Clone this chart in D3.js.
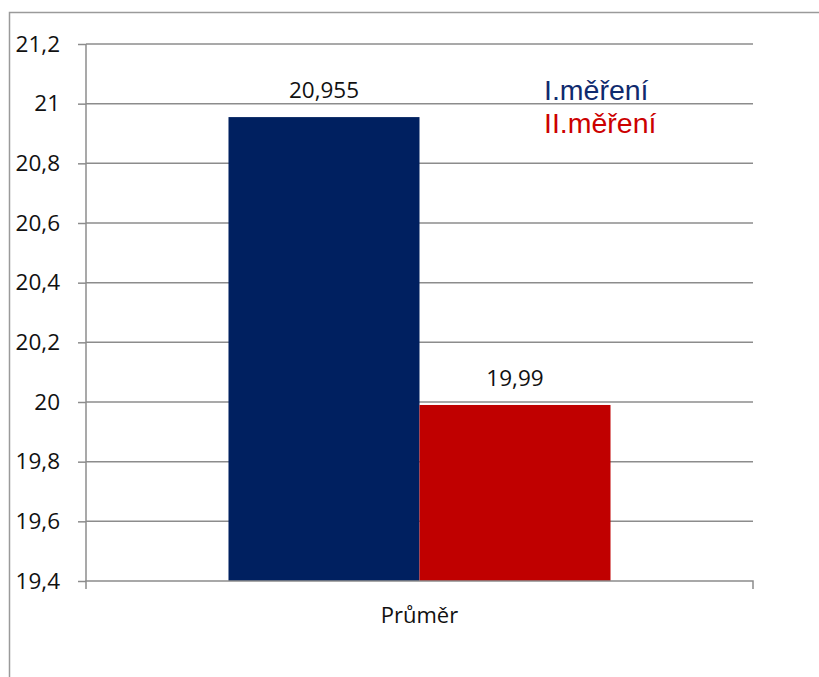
<!DOCTYPE html>
<html>
<head>
<meta charset="utf-8">
<script src="https://cdn.jsdelivr.net/npm/d3@7"></script>
<style>
  html, body { margin: 0; padding: 0; background: #fff; }
  svg { display: block; }
</style>
</head>
<body>
<svg id="chart" width="819" height="677"></svg>
<script>
// Data
const categories = ["Průměr"];
const seriesNames = ["I.měření", "II.měření"];
const seriesValues = [[20.955], [19.99]];
const valueLabels = ["20,955", "19,99"];
const yTicks = [19.4, 19.6, 19.8, 20, 20.2, 20.4, 20.6, 20.8, 21, 21.2];
const yTickLabels = ["19,4", "19,6", "19,8", "20", "20,2", "20,4", "20,6", "20,8", "21", "21,2"];
const seriesColors = ["#002060", "#C00000"];
const legendColors = ["#0f2a6e", "#cc0000"];

const svg = d3.select("#chart");
const W = 819, H = 677;
const plot = { left: 86, right: 753, top: 44, bottom: 581 };
const gridColor = "#8c8c8c";
const numFont = "'Open Sans', 'Noto Sans', sans-serif";

// Chart frame
svg.append("path")
  .attr("d", `M9.5,${H} V12.5 H${W}`)
  .attr("fill", "none")
  .attr("stroke", "#9a9a9a")
  .attr("stroke-width", 1.5);

const y = d3.scaleLinear().domain([19.4, 21.2]).range([plot.bottom, plot.top]);
const x0 = d3.scaleBand().domain(categories).range([plot.left, plot.right])
  .paddingInner(0).paddingOuter(0.373);
const x1 = d3.scaleBand().domain(d3.range(seriesNames.length)).range([0, x0.bandwidth()]);

// Horizontal gridlines
svg.append("g").selectAll("line").data(yTicks.slice(1)).join("line")
  .attr("x1", plot.left).attr("x2", plot.right)
  .attr("y1", d => y(d)).attr("y2", d => y(d))
  .attr("stroke", gridColor).attr("stroke-width", 1.5);

// Bars
const groups = svg.append("g").selectAll("g").data(categories).join("g")
  .attr("transform", d => `translate(${x0(d)},0)`);

seriesNames.forEach((s, i) => {
  groups.append("rect")
    .attr("x", x1(i))
    .attr("width", x1.bandwidth())
    .attr("y", (d, j) => y(seriesValues[i][j]))
    .attr("height", (d, j) => y(19.4) - y(seriesValues[i][j]))
    .attr("fill", seriesColors[i]);
  groups.append("text")
    .attr("x", x1(i) + x1.bandwidth() / 2)
    .attr("y", (d, j) => y(seriesValues[i][j]) - 19)
    .attr("text-anchor", "middle")
    .attr("font-family", numFont)
    .attr("font-size", 22.5)
    .attr("fill", "#111")
    .text(valueLabels[i]);
});

// Y axis
const yAxis = d3.axisLeft(y).tickValues(yTicks).tickSize(8).tickPadding(18)
  .tickFormat((d, i) => yTickLabels[i]);
const gy = svg.append("g").attr("transform", `translate(${plot.left},0)`).call(yAxis);
gy.select(".domain").attr("stroke", gridColor).attr("stroke-width", 1.5)
  .attr("d", `M0,${plot.top}V${plot.bottom}`);
gy.selectAll(".tick line").attr("stroke", gridColor).attr("stroke-width", 1.5);
gy.selectAll(".tick text").attr("font-family", numFont).attr("font-size", 22.5)
  .attr("fill", "#111");

// X axis
const gx = svg.append("g").attr("transform", `translate(0,${plot.bottom})`);
gx.append("path")
  .attr("d", `M${plot.left},8V0H${plot.right}V8`)
  .attr("fill", "none").attr("stroke", gridColor).attr("stroke-width", 1.5);
gx.selectAll("text").data(categories).join("text")
  .attr("x", d => x0(d) + x0.bandwidth() / 2)
  .attr("y", 42)
  .attr("text-anchor", "middle")
  .attr("font-family", numFont)
  .attr("font-size", 22)
  .attr("fill", "#111")
  .text(d => d);

// Legend
svg.append("g").selectAll("text").data(seriesNames).join("text")
  .attr("x", 544)
  .attr("y", (d, i) => 100 + i * 33)
  .attr("font-family", "'Liberation Sans', Arial, sans-serif")
  .attr("font-size", 28.5)
  .attr("fill", (d, i) => legendColors[i])
  .text(d => d);
</script>
</body>
</html>
